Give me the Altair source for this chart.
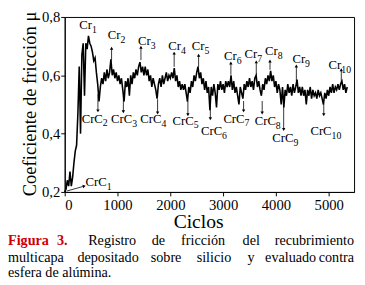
import altair as alt
import pandas as pd

# ---- friction record (every 25 cycles) ----
mu = [
    0.20, 0.21, 0.24, 0.22, 0.27, 0.22, 0.25, 0.30, 0.34, 0.36,
    0.47, 0.63, 0.40, 0.67, 0.71, 0.53, 0.71, 0.69, 0.735, 0.71,
    0.70, 0.68, 0.65, 0.66, 0.61, 0.57, 0.51, 0.56, 0.59, 0.57,
    0.61, 0.58, 0.62, 0.59, 0.61, 0.655, 0.60, 0.62, 0.59, 0.61,
    0.58, 0.60, 0.57, 0.59, 0.55, 0.51, 0.58, 0.56, 0.59, 0.53,
    0.60, 0.57, 0.61, 0.59, 0.62, 0.60, 0.63, 0.645, 0.61, 0.63,
    0.60, 0.63, 0.60, 0.62, 0.58, 0.60, 0.56, 0.59, 0.57, 0.55,
    0.52, 0.57, 0.59, 0.56, 0.60, 0.57, 0.59, 0.61, 0.58, 0.60,
    0.59, 0.61, 0.59, 0.625, 0.58, 0.60, 0.56, 0.58, 0.55, 0.57,
    0.55, 0.57, 0.54, 0.51, 0.56, 0.54, 0.58, 0.56, 0.60, 0.58,
    0.61, 0.63, 0.59, 0.61, 0.57, 0.59, 0.55, 0.58, 0.54, 0.56,
    0.48, 0.56, 0.53, 0.57, 0.54, 0.49, 0.57, 0.55, 0.58, 0.55,
    0.57, 0.54, 0.58, 0.56, 0.58, 0.56, 0.60, 0.55, 0.58, 0.54,
    0.56, 0.53, 0.50, 0.56, 0.54, 0.52, 0.57, 0.55, 0.58, 0.56,
    0.59, 0.56, 0.58, 0.55, 0.59, 0.60, 0.56, 0.58, 0.55, 0.53,
    0.57, 0.55, 0.59, 0.57, 0.60, 0.58, 0.615, 0.58, 0.60, 0.56,
    0.58, 0.54, 0.57, 0.55, 0.50, 0.56, 0.49, 0.55, 0.53, 0.57,
    0.54, 0.56, 0.53, 0.57, 0.54, 0.56, 0.585, 0.54, 0.56, 0.53,
    0.56, 0.53, 0.55, 0.50, 0.55, 0.53, 0.56, 0.52, 0.55, 0.53,
    0.54, 0.52, 0.55, 0.53, 0.54, 0.52, 0.50, 0.54, 0.52, 0.55,
    0.53, 0.56, 0.54, 0.57, 0.54, 0.56, 0.55, 0.57, 0.55, 0.57,
    0.58, 0.55, 0.57, 0.54, 0.56,
]
cycles = [i * 25 for i in range(len(mu))]

# ---- Cr labels (peaks) ----
cr_sub = ["1", "2", "3", "4", "5", "6", "7", "8", "9", "10"]
cr_lx = [518, 1055, 1629, 2203, 2647, 3258, 3646, 4035, 4553, 5238]
cr_ly = [0.760, 0.723, 0.703, 0.686, 0.686, 0.652, 0.659, 0.669, 0.642, 0.622]
# arrows for Cr2..Cr10 (x, tail, head)
cr_ax = [888, 1444, 2073, 2536, 3147, 3628, 3888, 4387, 5238]
cr_at = [0.652, 0.652, 0.629, 0.629, 0.602, 0.602, 0.619, 0.579, 0.572]
cr_ah = [0.693, 0.696, 0.676, 0.669, 0.642, 0.646, 0.649, 0.632, 0.619]

# ---- CrC labels (valleys) ----
crc_sub = ["1", "2", "3", "4", "5", "6", "7", "8", "9", "10"]
crc_lx = [796, 722, 1277, 1833, 2444, 2981, 3406, 3999, 4332, 5054]
crc_ly = [0.220, 0.438, 0.435, 0.435, 0.431, 0.394, 0.438, 0.428, 0.371, 0.394]
# arrows for CrC2..CrC10 (x, tail, head)
crc_ax = [629, 1111, 1759, 2333, 2758, 3388, 3740, 4147, 4906]
crc_at = [0.535, 0.528, 0.518, 0.512, 0.512, 0.512, 0.512, 0.495, 0.502]
crc_ah = [0.478, 0.475, 0.471, 0.465, 0.451, 0.478, 0.471, 0.414, 0.465]
# CrC1 arrow (tail -> head)
crc1_arrow = {"x": 37, "y": 0.203, "x2": 370, "y2": 0.220}

# ---- caption words (justified lines) ----
cap_text = ["Figura", "3.", "Registro", "de", "fricción", "del", "recubrimiento",
            "multicapa", "depositado", "sobre", "silicio", "y", "evaluado", "contra",
            "esfera de alúmina."]
cap_x = [-58, -8, 24, 89, 119, 182, 296,
         -58, 13, 88, 135, 187, 205, 296,
         -58]
cap_y = [233] * 7 + [251] * 7 + [266]
cap_align = ["left"] * 6 + ["right"] + ["left"] * 6 + ["right"] + ["left"]
cap_red = [True, True] + [False] * 13

FONT = "'Liberation Serif', 'Times New Roman', Times, serif"
XS = alt.Scale(domain=[0, 5480], nice=False, zero=False)
YS = alt.Scale(domain=[0.2, 0.8], nice=False, zero=False)

df = pd.DataFrame({"c": cycles, "mu": mu})
line = alt.Chart(df).mark_line(color="black", strokeWidth=1.6).encode(
    x=alt.X("c:Q", scale=XS, title=None,
            axis=alt.Axis(values=list(range(0, 5001, 500)), tickSize=4, labelPadding=2,
                          labelExpr="datum.value % 1000 == 0 ? format(datum.value, 'd') : ''",
                          labelOverlap=False)),
    y=alt.Y("mu:Q", scale=YS, title=None,
            axis=alt.Axis(values=[0.2, 0.25, 0.3, 0.35, 0.4, 0.45, 0.5, 0.55, 0.6, 0.65, 0.7, 0.75, 0.8],
                          tickSize=4, labelPadding=1,
                          labelExpr="round(datum.value*20) % 2 == 0 ? replace(format(datum.value, '.1f'), '.', ',') : ''",
                          labelOverlap=False)),
)

def xe(f):
    return alt.X(f, type="quantitative", title=None)

def ye(f):
    return alt.Y(f, type="quantitative", title=None)

crdf = pd.DataFrame({"x": cr_lx, "y": cr_ly, "s": cr_sub})
cr_main = alt.Chart(crdf).mark_text(font=FONT, fontSize=13, align="right", baseline="alphabetic",
                                    color="black").encode(x=xe("x"), y=ye("y"), text=alt.value("Cr"))
cr_subm = alt.Chart(crdf).mark_text(font=FONT, fontSize=10, align="left", baseline="alphabetic",
                                    dy=4, color="black").encode(x=xe("x"), y=ye("y"), text="s:N")

crcdf = pd.DataFrame({"x": crc_lx, "y": crc_ly, "s": crc_sub})
crc_main = alt.Chart(crcdf).mark_text(font=FONT, fontSize=13, align="right", baseline="alphabetic",
                                      color="black").encode(x=xe("x"), y=ye("y"), text=alt.value("CrC"))
crc_subm = alt.Chart(crcdf).mark_text(font=FONT, fontSize=10, align="left", baseline="alphabetic",
                                      dy=4, color="black").encode(x=xe("x"), y=ye("y"), text="s:N")

up = pd.DataFrame({"x": cr_ax, "t": cr_at, "h": cr_ah})
up_rule = alt.Chart(up).mark_rule(color="black", strokeWidth=0.8).encode(x=xe("x"), y=ye("t"), y2="h:Q")
up_head = alt.Chart(up).mark_point(shape="triangle-up", size=12, filled=True, color="black",
                                   opacity=1).encode(x=xe("x"), y=ye("h"))

dn = pd.DataFrame({"x": crc_ax, "t": crc_at, "h": crc_ah})
dn_rule = alt.Chart(dn).mark_rule(color="black", strokeWidth=0.8).encode(x=xe("x"), y=ye("t"), y2="h:Q")
dn_head = alt.Chart(dn).mark_point(shape="triangle-down", size=12, filled=True, color="black",
                                   opacity=1).encode(x=xe("x"), y=ye("h"))

a1 = pd.DataFrame([crc1_arrow])
a1_rule = alt.Chart(a1).mark_rule(color="black", strokeWidth=0.8).encode(
    x=xe("x"), y=ye("y"), x2="x2:Q", y2="y2:Q")
a1_head = alt.Chart(a1).mark_point(shape="triangle-right", size=12, filled=True, color="black",
                                   opacity=1, angle=345).encode(x=xe("x2"), y=ye("y2"))

# axis titles
ytitle = alt.Chart(pd.DataFrame({"t": ["Coeficiente de fricción μ"]})).mark_text(
    font=FONT, fontSize=19, angle=270, align="center", baseline="alphabetic", color="black"
).encode(x=alt.value(-29), y=alt.value(89), text="t:N")
xtitle = alt.Chart(pd.DataFrame({"t": ["Ciclos"]})).mark_text(
    font=FONT, fontSize=20, align="center", baseline="alphabetic", color="black"
).encode(x=alt.value(137), y=alt.value(216), text="t:N")

capdf = pd.DataFrame({"t": cap_text, "px": cap_x, "py": cap_y, "al": cap_align, "red": cap_red})
cap_layers = []
for al in ["left", "right"]:
    for red in [True, False]:
        sub = capdf[(capdf.al == al) & (capdf.red == red)]
        if len(sub) == 0:
            continue
        cap_layers.append(
            alt.Chart(sub).mark_text(
                font=FONT, fontSize=14.5, align=al, baseline="alphabetic",
                color="#cc0000" if red else "black", fontWeight="bold" if red else "normal"
            ).encode(x=alt.X("px:Q", scale=None, axis=None), y=alt.Y("py:Q", scale=None, axis=None),
                     text="t:N")
        )

chart = alt.layer(
    line, up_rule, up_head, dn_rule, dn_head, a1_rule, a1_head,
    cr_main, cr_subm, crc_main, crc_subm, ytitle, xtitle, *cap_layers
).properties(
    width=296, height=179,
    autosize=alt.AutoSizeParams(type="none"),
    padding={"left": 58, "top": 6, "right": 3, "bottom": 92},
    background="white",
).configure_view(
    stroke="black", strokeWidth=1
).configure_axis(
    labelFont=FONT, labelFontSize=15, labelColor="black", domainColor="black",
    tickColor="black", grid=False, domainWidth=1, tickWidth=1
)

chart.save("out.html", embed_options={"renderer": "svg", "actions": False})
